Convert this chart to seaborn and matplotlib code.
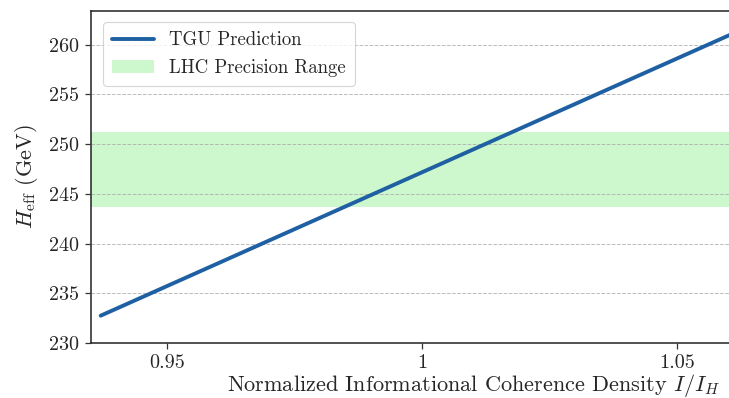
import numpy as np
import pandas as pd
import matplotlib
matplotlib.use("Agg")
import matplotlib.pyplot as plt
import seaborn as sns

# Data
x_vals = [0.937, 1.07]           # normalized informational coherence density I/I_H
h_eff = [232.75, 263.2]          # TGU prediction H_eff (GeV)
band_low, band_high = 243.7, 251.2   # LHC precision range (GeV)
y_ticks = [230, 235, 240, 245, 250, 255, 260]
x_ticks = [0.95, 1.0, 1.05]
x_tick_labels = ["0.95", "1", "1.05"]

sns.set_theme(style="ticks")
plt.rcParams.update({
    "font.family": ["serif"],
    "font.serif": ["cmr10", "DejaVu Serif"],
    "mathtext.fontset": "cm",
    "axes.formatter.use_mathtext": True,
    "axes.unicode_minus": False,
})

df = pd.DataFrame({"x": x_vals, "y": h_eff})

fig = plt.figure(figsize=(7.29, 3.98), dpi=100)
# the reference is a crop: the axes continue past the right edge of the picture
ax = fig.add_axes([90.5 / 729, 1 - 343 / 398, (855.5 - 90.5) / 729, (343 - 11) / 398])

ax.axhspan(band_low, band_high, color="#90ee90", alpha=0.45, lw=0,
           label="LHC Precision Range", zorder=1)
sns.lineplot(data=df, x="x", y="y", ax=ax, color="#1f60a3", lw=2.8,
             label="TGU Prediction", zorder=3)

ax.set_xlim(0.935, 1.085)
ax.set_ylim(230, 263.4)
ax.set_yticks(y_ticks)
ax.set_xticks(x_ticks)
ax.set_xticklabels(x_tick_labels)
ax.grid(axis="y", linestyle="--", color="#aaaaaa", lw=0.7, alpha=0.8, zorder=2)
ax.set_axisbelow(False)

ax.set_xlabel(r"Normalized Informational Coherence Density $I/I_H$", fontsize=16, labelpad=0)
ax.set_ylabel(r"$H_{\mathrm{eff}}$ (GeV)", fontsize=16, labelpad=6)
ax.tick_params(axis="both", labelsize=14.5, length=4.5, width=0.9, color="#333333")
for s in ax.spines.values():
    s.set_color("#222222")
    s.set_linewidth(1.1)

handles, labels = ax.get_legend_handles_labels()
order = [labels.index("TGU Prediction"), labels.index("LHC Precision Range")]
leg = ax.legend([handles[i] for i in order], [labels[i] for i in order],
                loc="upper left", fontsize=13.5, frameon=True, fancybox=True,
                borderpad=0.5, handlelength=2.2, bbox_to_anchor=(0.004, 0.995))
leg.get_frame().set_edgecolor("#cccccc")
leg.get_frame().set_linewidth(0.8)

fig.savefig("out.png", dpi=100)
